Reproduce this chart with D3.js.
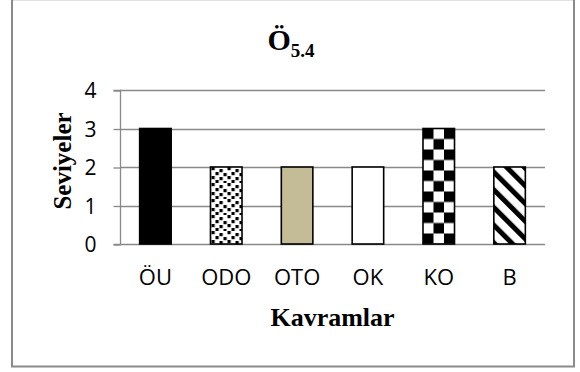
<!DOCTYPE html>
<html>
<head>
<meta charset="utf-8">
<script src="https://cdn.jsdelivr.net/npm/d3@7/dist/d3.min.js"></script>
<style>
  html, body { margin: 0; padding: 0; background: #fff; }
  svg { display: block; }
</style>
</head>
<body>
<svg id="chart" width="580" height="372"></svg>
<script>
// Concepts on the x axis and their levels
const categories = ["ÖU", "ODO", "OTO", "OK", "KO", "B"];
const levels = [3, 2, 2, 2, 3, 2];
const yTicks = [0, 1, 2, 3, 4];
const titleMain = "Ö";
const titleSub = "5.4";
const xTitle = "Kavramlar";
const yTitle = "Seviyeler";

const plot = { left: 120, right: 545, top: 90, bottom: 244 };
const gridColor = "#898989";
const serif = "'Liberation Serif', 'Times New Roman', serif";
const sans = "'Open Sans', 'Noto Sans', sans-serif";

const svg = d3.select("#chart");

const x = d3.scaleBand()
  .domain(categories)
  .range([plot.left, plot.right])
  .paddingInner(0.555)
  .paddingOuter(0.2775);

const y = d3.scaleLinear()
  .domain([0, 4])
  .range([plot.bottom, plot.top]);

// Fill styles per concept
const defs = svg.append("defs");

// scattered squares
const conf = defs.append("pattern")
  .attr("id", "p-confetti")
  .attr("patternUnits", "userSpaceOnUse")
  .attr("width", 16).attr("height", 16)
  .attr("x", x("ODO")).attr("y", y(2));
conf.append("rect").attr("width", 16).attr("height", 16).attr("fill", "#fff");
[[1,0],[9,2],[5,5],[13,6],[1,9],[9,10],[5,13],[13,14],[-3,6]].forEach(([cx, cy]) => {
  conf.append("rect").attr("x", cx).attr("y", cy).attr("width", 3.2).attr("height", 3.2).attr("fill", "#000");
});

// checkerboard
const cs = 10.5;
const chk = defs.append("pattern")
  .attr("id", "p-check")
  .attr("patternUnits", "userSpaceOnUse")
  .attr("width", cs * 2).attr("height", cs * 2)
  .attr("x", x("KO")).attr("y", y(3));
chk.append("rect").attr("width", cs * 2).attr("height", cs * 2).attr("fill", "#fff");
chk.append("rect").attr("x", 0).attr("y", 0).attr("width", cs).attr("height", cs).attr("fill", "#000");
chk.append("rect").attr("x", cs).attr("y", cs).attr("width", cs).attr("height", cs).attr("fill", "#000");

// diagonal stripes running down to the right
const str = defs.append("pattern")
  .attr("id", "p-stripe")
  .attr("patternUnits", "userSpaceOnUse")
  .attr("width", 12.5).attr("height", 12.5)
  .attr("patternTransform", "rotate(-45)");
str.append("rect").attr("width", 12.5).attr("height", 12.5).attr("fill", "#fff");
str.append("rect").attr("x", 0).attr("width", 5).attr("height", 12.5).attr("fill", "#000");

const fills = ["#000000", "url(#p-confetti)", "#c4bc96", "#ffffff", "url(#p-check)", "url(#p-stripe)"];

// Outer chart frame
svg.append("line").attr("x1", 11).attr("x2", 575).attr("y1", 0.5).attr("y2", 0.5)
  .attr("stroke", "#e2e2e2").attr("stroke-width", 1);
svg.append("path")
  .attr("d", `M12,0 V366.5 H574 V0`)
  .attr("fill", "none").attr("stroke", "#8a8a8a").attr("stroke-width", 2);

// Horizontal gridlines
svg.append("g")
  .selectAll("line")
  .data(yTicks)
  .join("line")
  .attr("x1", plot.left).attr("x2", plot.right)
  .attr("y1", d => Math.round(y(d)) + 0.5)
  .attr("y2", d => Math.round(y(d)) + 0.5)
  .attr("stroke", gridColor).attr("stroke-width", 1.3);

// Y axis
const yAxis = d3.axisLeft(y).tickValues(yTicks).tickSize(7).tickPadding(17).tickFormat(d3.format("d"));
const gy = svg.append("g")
  .attr("transform", `translate(${plot.left + 0.5},0.5)`)
  .call(yAxis);
gy.select(".domain").attr("stroke", gridColor).attr("stroke-width", 1.3).attr("d", `M-7,${Math.round(y(4))}H0V${Math.round(y(0))}H-7`);
gy.selectAll(".tick line").attr("stroke", gridColor).attr("stroke-width", 1.3);
gy.selectAll(".tick text")
  .attr("font-family", sans).attr("font-size", 21).attr("fill", "#000").attr("dy", "0.35em");

// X axis labels
const xAxis = d3.axisBottom(x).tickSize(0).tickPadding(25);
const gx = svg.append("g")
  .attr("transform", `translate(0,${plot.bottom})`)
  .call(xAxis);
gx.select(".domain").remove();
gx.selectAll(".tick text")
  .attr("font-family", sans).attr("font-size", 22).attr("fill", "#000");

// Bars
svg.append("g")
  .selectAll("rect")
  .data(categories.map((c, i) => ({ c, v: levels[i], f: fills[i] })))
  .join("rect")
  .attr("x", d => x(d.c))
  .attr("y", d => y(d.v))
  .attr("width", x.bandwidth())
  .attr("height", d => y(0) - y(d.v))
  .attr("fill", d => d.f)
  .attr("stroke", "#000")
  .attr("stroke-width", 1.6);

// Title with subscript
const title = svg.append("text")
  .attr("x", 291).attr("y", 50)
  .attr("text-anchor", "middle")
  .attr("font-family", serif).attr("font-weight", "bold")
  .attr("font-size", 30).attr("fill", "#000");
title.append("tspan").text(titleMain);
title.append("tspan").attr("font-size", 19).attr("dy", 7).text(titleSub);

// Axis titles
svg.append("text")
  .attr("x", (plot.left + plot.right) / 2).attr("y", 326)
  .attr("text-anchor", "middle")
  .attr("font-family", serif).attr("font-weight", "bold")
  .attr("font-size", 26).attr("fill", "#000")
  .text(xTitle);

svg.append("text")
  .attr("transform", `translate(71,161) rotate(-90)`)
  .attr("text-anchor", "middle")
  .attr("font-family", serif).attr("font-weight", "bold")
  .attr("font-size", 25).attr("fill", "#000")
  .text(yTitle);
</script>
</body>
</html>
